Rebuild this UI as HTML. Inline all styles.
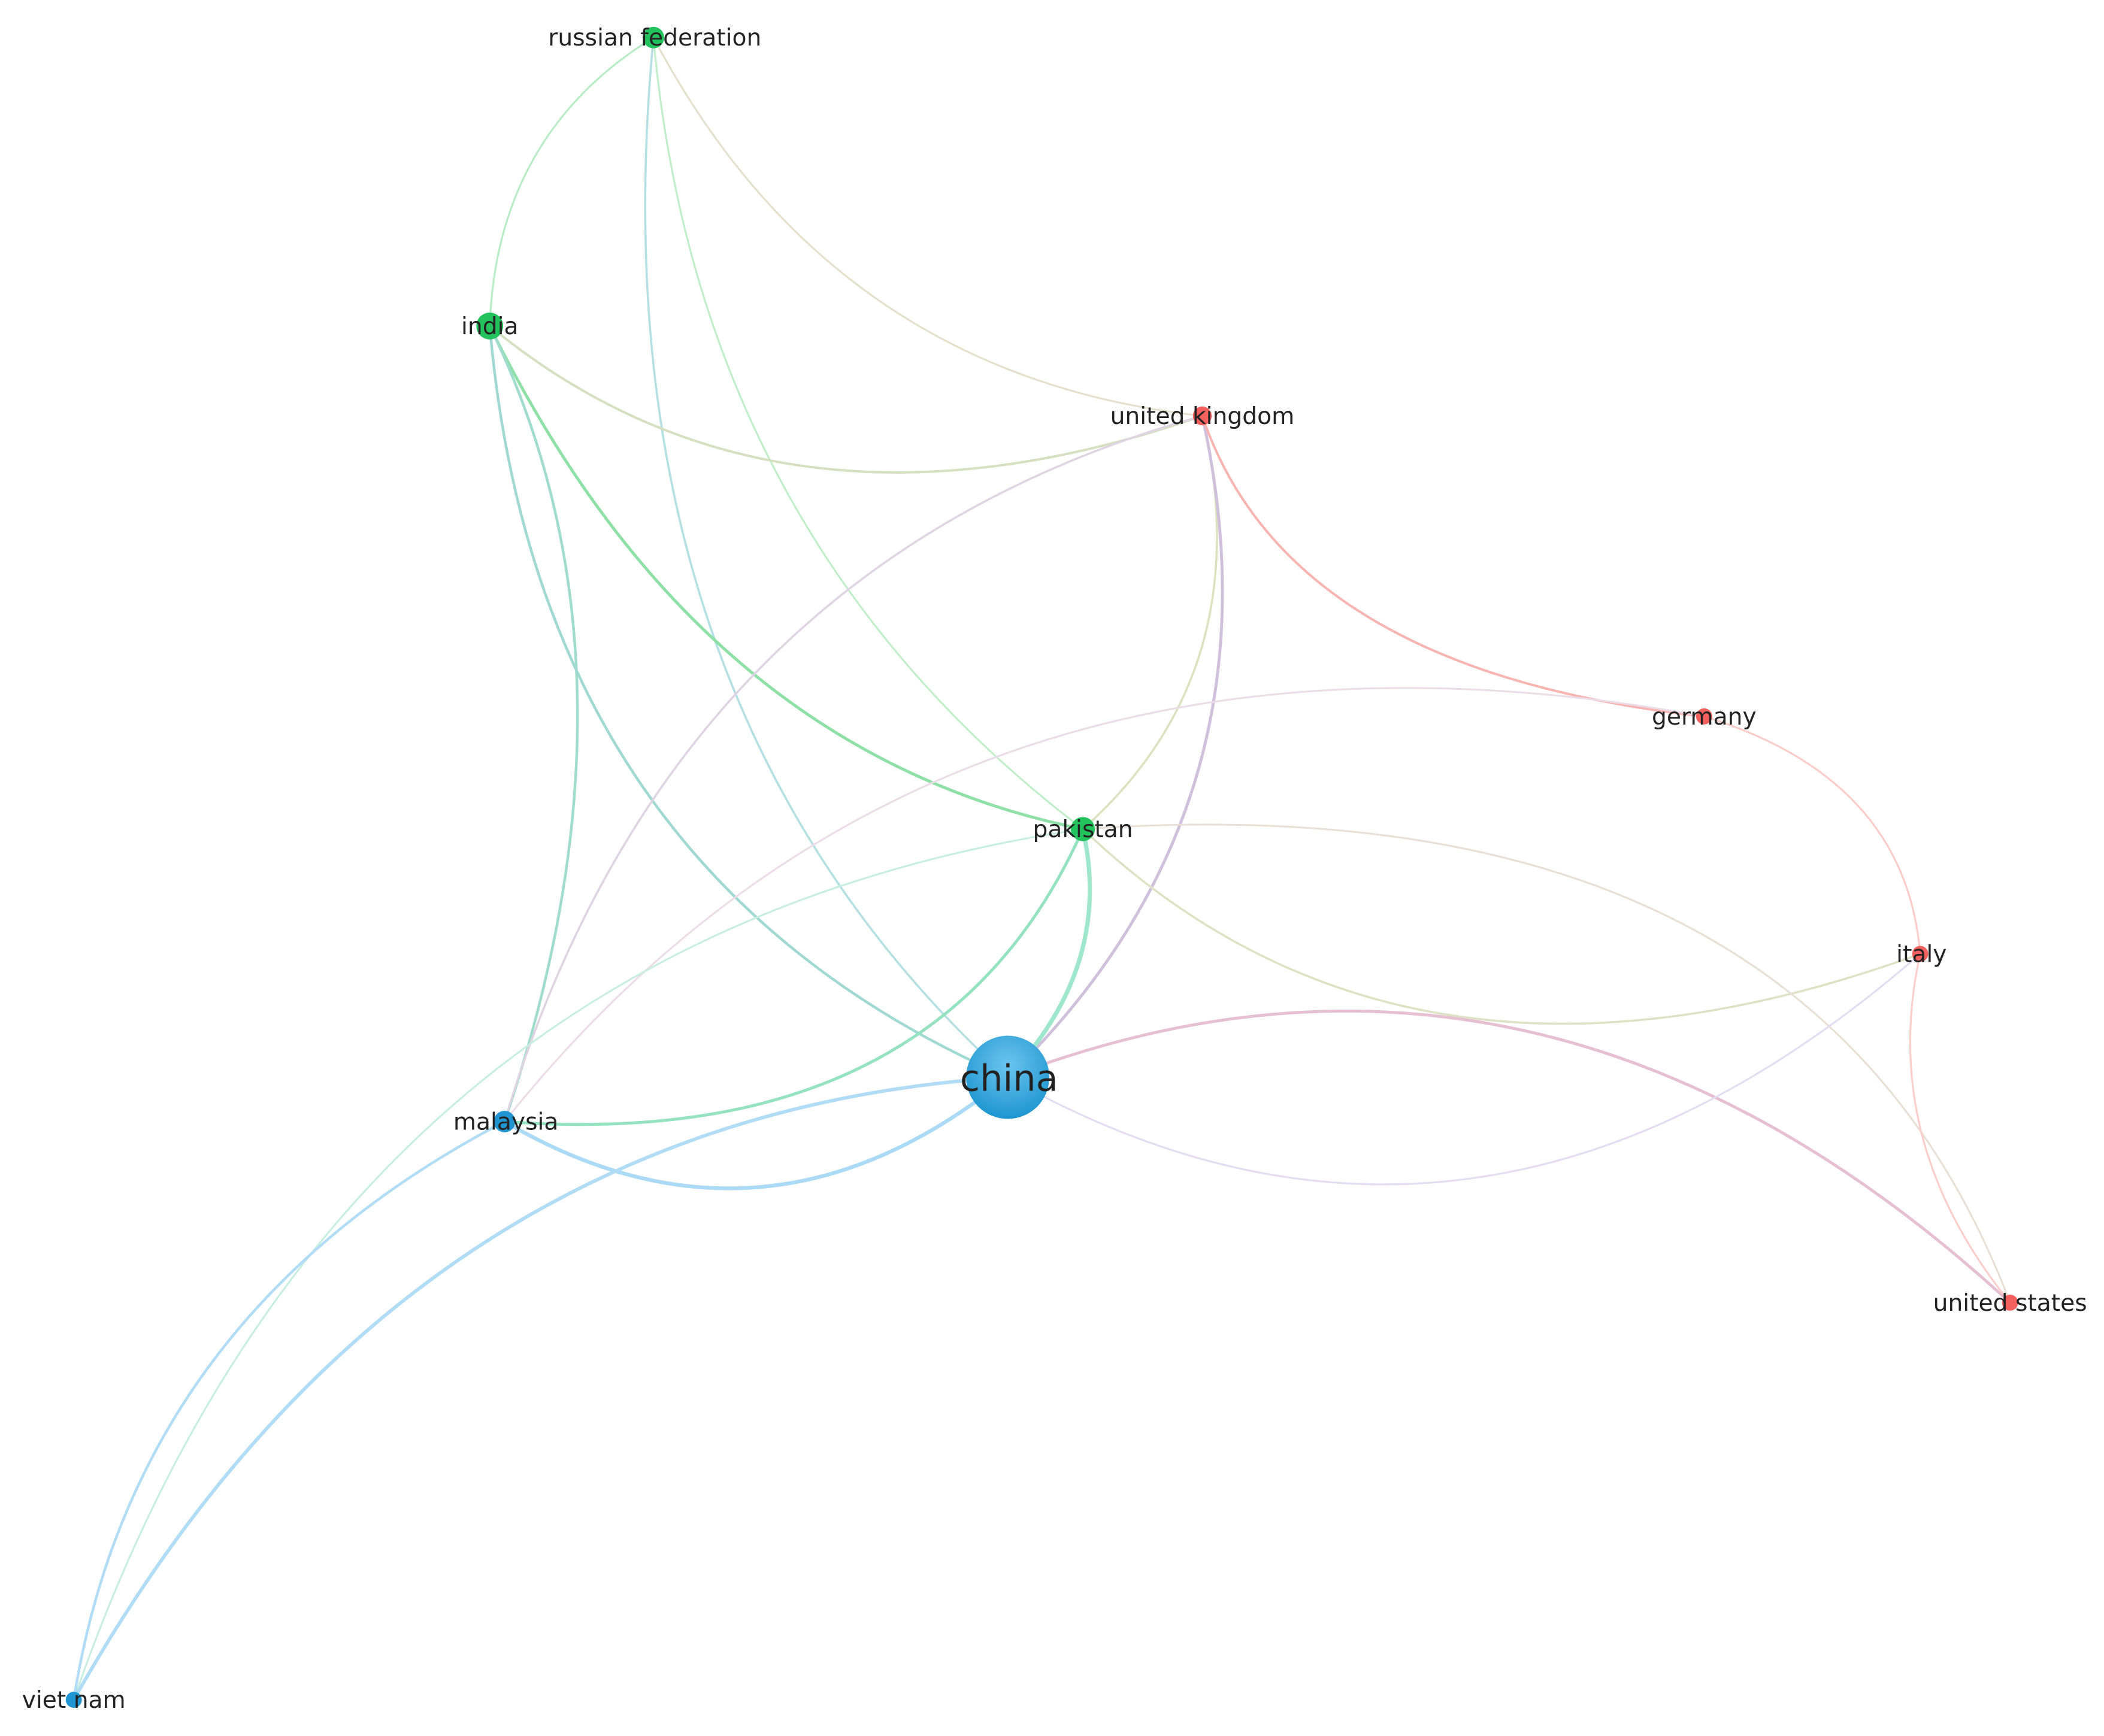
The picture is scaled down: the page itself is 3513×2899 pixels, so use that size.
<!DOCTYPE html>
<html><head><meta charset="utf-8"><style>
html,body{margin:0;padding:0;background:#fff;}
svg{display:block;}
text{font-family:"DejaVu Sans","Liberation Sans",sans-serif;fill:#222;}
</style></head><body>
<svg width="3513" height="2899" viewBox="0 0 1568 1294" preserveAspectRatio="none" xmlns="http://www.w3.org/2000/svg">
<defs>
<radialGradient id="cg" cx="50%" cy="35%" r="65%"><stop offset="0" stop-color="#6cc4f0"/><stop offset="1" stop-color="#1e96d0"/></radialGradient>
</defs>
<g fill="none" stroke-linecap="round">
<path d="M487,28 Q370,100 365,243" stroke="#b8ecc4" stroke-width="1.4"/>
<path d="M487,28 Q440,520 751,803" stroke="#b4e0e4" stroke-width="1.6"/>
<path d="M487,28 Q520,400 807,618" stroke="#c0eec8" stroke-width="1.4"/>
<path d="M487,28 Q620,280 896,310" stroke="#e4e0cc" stroke-width="1.4"/>
<path d="M365,243 Q580,420 896,310" stroke="#d4e0c0" stroke-width="1.8"/>
<path d="M365,243 Q520,560 807,618" stroke="#8ee0a6" stroke-width="2.2"/>
<path d="M365,243 Q490,500 376,836" stroke="#a0dccc" stroke-width="2"/>
<path d="M365,243 Q400,650 751,803" stroke="#a0d8d4" stroke-width="2"/>
<path d="M896,310 Q500,420 376,836" stroke="#e0d4e4" stroke-width="1.6"/>
<path d="M896,310 Q940,500 807,618" stroke="#dce2c0" stroke-width="1.6"/>
<path d="M896,310 Q960,600 751,803" stroke="#d0c0dc" stroke-width="2.2"/>
<path d="M896,310 Q960,500 1270,534" stroke="#f8b4b0" stroke-width="1.8"/>
<path d="M1270,534 Q700,430 376,836" stroke="#ecdce8" stroke-width="1.4"/>
<path d="M1270,534 Q1420,580 1431,711" stroke="#fcccc8" stroke-width="1.4"/>
<path d="M807,618 Q1050,850 1431,711" stroke="#dee2c4" stroke-width="1.6"/>
<path d="M807,618 Q1350,580 1498,971" stroke="#e8e0d4" stroke-width="1.4"/>
<path d="M807,618 Q700,860 376,836" stroke="#94e2c0" stroke-width="2.2"/>
<path d="M807,618 Q830,720 751,803" stroke="#9ee6cc" stroke-width="3.2"/>
<path d="M807,618 Q250,700 55,1267" stroke="#c8eee2" stroke-width="1.4"/>
<path d="M751,803 Q570,950 376,836" stroke="#aadaf6" stroke-width="2.8"/>
<path d="M751,803 Q300,830 55,1267" stroke="#b0dcf6" stroke-width="2.6"/>
<path d="M751,803 Q1150,650 1498,971" stroke="#e6c0d2" stroke-width="2.2"/>
<path d="M751,803 Q1100,1000 1431,711" stroke="#e4dcf0" stroke-width="1.4"/>
<path d="M376,836 Q100,980 55,1267" stroke="#b0dcf6" stroke-width="2"/>
<path d="M1431,711 Q1400,850 1498,971" stroke="#fccecA" stroke-width="1.4"/>
</g>
<g>
<circle cx="487" cy="28" r="8" fill="#22c25c"/>
<circle cx="365" cy="243" r="10" fill="#22c25c"/>
<circle cx="807" cy="618" r="9" fill="#22c25c"/>
<circle cx="896" cy="310" r="7" fill="#f4605e"/>
<circle cx="1270" cy="534" r="6" fill="#f4605e"/>
<circle cx="1431" cy="711" r="6" fill="#f4605e"/>
<circle cx="1498" cy="971" r="6" fill="#f4605e"/>
<circle cx="751" cy="803" r="31" fill="url(#cg)"/>
<circle cx="376" cy="836" r="8" fill="#2095d2"/>
<circle cx="55" cy="1267" r="6" fill="#2095d2"/>
</g>
<g font-size="17.5" text-anchor="middle">
<text x="488" y="34">russian federation</text>
<text x="365" y="249">india</text>
<text x="896" y="316">united kingdom</text>
<text x="1270" y="540">germany</text>
<text x="807" y="624">pakistan</text>
<text x="1432" y="717">italy</text>
<text x="1498" y="977">united states</text>
<text x="377" y="842">malaysia</text>
<text x="55" y="1273">viet nam</text>
<text x="752" y="813" font-size="27">china</text>
</g>
</svg>
</body></html>
